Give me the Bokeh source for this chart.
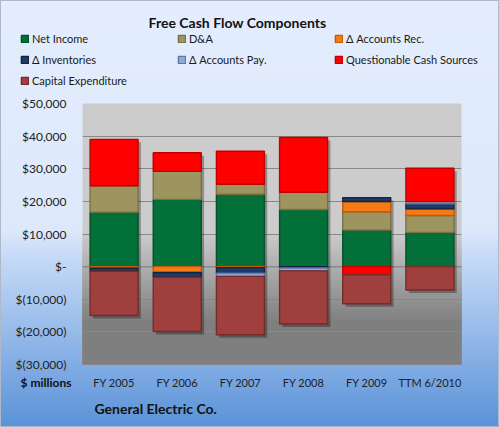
import numpy as np
from bokeh.plotting import figure
from bokeh.layouts import column, row
from bokeh.models import (ColumnDataSource, FactorRange, FixedTicker, Legend, LegendItem,
                          BoxAnnotation, Span, InlineStyleSheet, Label, Range1d)
from bokeh.transform import dodge
from bokeh.embed import file_html
from bokeh.resources import INLINE

# ---------------- data ($ millions) ----------------
categories = ["FY 2005", "FY 2006", "FY 2007", "FY 2008", "FY 2009", "TTM 6/2010"]
net_income = [16700, 20600, 22200, 17500, 11200, 10500]
dep_amort = [8100, 8600, 3050, 5300, 5600, 5150]
d_accounts_rec = [-500, -1800, -300, 0, 3150, 2050]
d_inventories = [-900, -1500, -1700, -400, 1200, 1550]
d_accounts_pay = [0, 0, -1000, -900, 0, 700]
questionable = [14200, 5700, 10100, 16800, -2500, 10200]
capex = [-13600, -16600, -17900, -16300, -8900, -7150]

series_names = ["Net Income", "D&A", "\u0394 Accounts Rec.", "\u0394 Inventories",
                "\u0394 Accounts Pay.", "Questionable Cash Sources", "Capital Expenditure"]
series_values = [net_income, dep_amort, d_accounts_rec, d_inventories,
                 d_accounts_pay, questionable, capex]

y_ticks = [-30000, -20000, -10000, 0, 10000, 20000, 30000, 40000, 50000]
y_tick_labels = ["$(30,000)", "$(20,000)", "$(10,000)", "$-", "$10,000",
                 "$20,000", "$30,000", "$40,000", "$50,000"]

chart_title = "Free Cash Flow Components"
unit_text = "$ millions"
company_text = "General Electric Co."

# ---------------- styles ----------------
fills = ["#03703a", "#9e9460", "#f77b14", "#1f3a64", "#8ea8d8", "#ff0000", "#a0403e"]
edges = ["#02522a", "#7a7245", "#c35a06", "#13243f", "#5d77a8", "#c20000", "#742b2a"]
FONT = "Lato"
TXT = "#111111"
BAR_W = 0.76
W = 499


def bare(fig):
    fig.border_fill_color = None
    fig.background_fill_color = None
    fig.outline_line_color = None
    fig.grid.grid_line_color = None
    fig.frame_align = False
    return fig


# ---------------- stacking (positive / negative parts stacked separately) ----------------
n = len(categories)
pos_base = np.zeros(n)
neg_base = np.zeros(n)
seg_sources = []
for vals in series_values:
    xs, tops, bots = [], [], []
    for i, v in enumerate(vals):
        if v > 0:
            xs.append(categories[i]); bots.append(pos_base[i]); tops.append(pos_base[i] + v)
            pos_base[i] += v
        elif v < 0:
            xs.append(categories[i]); tops.append(neg_base[i]); bots.append(neg_base[i] + v)
            neg_base[i] += v
    seg_sources.append(ColumnDataSource(dict(x=xs, top=tops, bottom=bots)))

x_range = FactorRange(factors=categories, range_padding=0)

# ---------------- top: title + legend ----------------
# legend-only strip: a numeric x range cannot place the categorical bars, so none are drawn
top = bare(figure(width=W, height=95, x_range=Range1d(0, 1), y_range=Range1d(0, 1),
                  output_backend="svg", toolbar_location=None, min_border=0,
                  x_axis_location=None, y_axis_location=None))
top.add_layout(Label(x=237, y=73, x_units="screen", y_units="screen", text=chart_title,
                     text_align="center", text_baseline="middle", text_font=FONT,
                     text_font_style="bold", text_font_size="14px", text_color=TXT))
items = []
for name, src, fc, ec in zip(series_names, seg_sources, fills, edges):
    r = top.vbar(x="x", top="top", bottom="bottom", width=BAR_W, source=src,
                 fill_color=fc, line_color=ec, line_width=1.4)
    items.append(LegendItem(label=name, renderers=[r]))
legend = Legend(items=items, orientation="horizontal", ncols=3, location=(20, 8),
                padding=0, margin=0, spacing=7, label_height=14, label_width=138,
                glyph_height=9, glyph_width=9, label_standoff=3,
                label_text_font=FONT, label_text_font_size="11px", label_text_color="#1a1a1a",
                background_fill_alpha=0, border_line_color=None)
top.add_layout(legend, "center")

# ---------------- main chart ----------------
p = figure(width=W, height=277, x_range=x_range, y_range=(-30000, 50000),
           output_backend="svg", toolbar_location=None, x_axis_location=None,
           min_border_left=82, min_border_right=38, min_border_top=8, min_border_bottom=8)
p.border_fill_color = None
p.background_fill_color = "#cccccc"
p.outline_line_color = None
p.frame_align = False

# plot-area gradient (decoration, overlapping bands => no seams)
top_c = np.array([0xcc, 0xcc, 0xcc])
bot_c = np.array([0x7f, 0x7f, 0x7f])
g_hi, g_lo, nb = 11000, -16500, 30
band_tops = np.linspace(g_hi, g_lo, nb + 1)
for k in range(nb + 1):
    c = top_c + (bot_c - top_c) * k / nb
    col = "#%02x%02x%02x" % tuple(int(round(v)) for v in c)
    p.add_layout(BoxAnnotation(top=band_tops[k], bottom=-30000, fill_color=col,
                               fill_alpha=1, line_color=None, level="image"))

p.xgrid.grid_line_color = None
p.ygrid.ticker = FixedTicker(ticks=y_ticks)
p.ygrid.grid_line_color = "#888888"
p.ygrid.grid_line_width = 1
p.add_layout(Span(location=0, dimension="width", line_color="#8a8a8a", line_width=1.5,
                  level="underlay"))

shadow_offset = 900
shadow_src = ColumnDataSource(dict(x=categories, top=pos_base - shadow_offset,
                                   bottom=neg_base - shadow_offset))
p.vbar(x=dodge("x", 0.045, range=p.x_range), top="top", bottom="bottom", width=BAR_W,
       source=shadow_src, fill_color="black", fill_alpha=0.3, line_color=None)

for src, fc, ec in zip(seg_sources, fills, edges):
    p.vbar(x="x", top="top", bottom="bottom", width=BAR_W, source=src,
           fill_color=fc, line_color=ec, line_width=1.4)

p.yaxis.ticker = FixedTicker(ticks=y_ticks)
p.yaxis.major_label_overrides = dict(zip(y_ticks, y_tick_labels))
p.yaxis.axis_line_color = None
p.yaxis.major_tick_line_color = None
p.yaxis.minor_tick_line_color = None
p.yaxis.major_label_standoff = 10
p.yaxis.major_label_text_font = FONT
p.yaxis.major_label_text_font_size = "12px"
p.yaxis.major_label_text_color = "#222222"

# ---------------- bottom: unit label, category axis, company ----------------
unit = bare(figure(width=82, height=55, x_range=Range1d(0, 82), y_range=Range1d(0, 55),
                   output_backend="svg", toolbar_location=None, min_border=0,
                   x_axis_location=None, y_axis_location=None))
unit.add_layout(Label(x=20, y=45, x_units="screen", y_units="screen", text=unit_text,
                      text_align="left", text_baseline="middle", text_font=FONT,
                      text_font_style="bold", text_font_size="12px", text_color=TXT))

bot = bare(figure(width=W - 82, height=55, x_range=x_range, y_range=Range1d(0, 1),
                  output_backend="svg", toolbar_location=None, x_axis_location="above",
                  y_axis_location=None, min_border_left=0, min_border_right=38,
                  min_border_top=16, min_border_bottom=0))
bot.xaxis.axis_line_color = None
bot.xaxis.major_tick_line_color = None
bot.xaxis.minor_tick_line_color = None
bot.xaxis.major_label_standoff = 1
bot.xaxis.major_label_text_font = FONT
bot.xaxis.major_label_text_font_size = "11px"
bot.xaxis.major_label_text_color = "#222222"
bot.add_layout(Label(x=12, y=19, x_units="screen", y_units="screen", text=company_text,
                     text_align="left", text_baseline="middle", text_font=FONT,
                     text_font_style="bold", text_font_size="14px", text_color=TXT))

layout = column(top, p, row(unit, bot, spacing=0), spacing=0)
layout.stylesheets = [InlineStyleSheet(css=(
    ":host { background: linear-gradient(to bottom, #e3edfd 0%, #dde8fb 54%, #c9dcf8 59%, "
    "#5a92d8 100%); box-shadow: inset 0 0 0 1px #aeb8c8; }"))]

open("out.html", "w").write(file_html(layout, INLINE))
